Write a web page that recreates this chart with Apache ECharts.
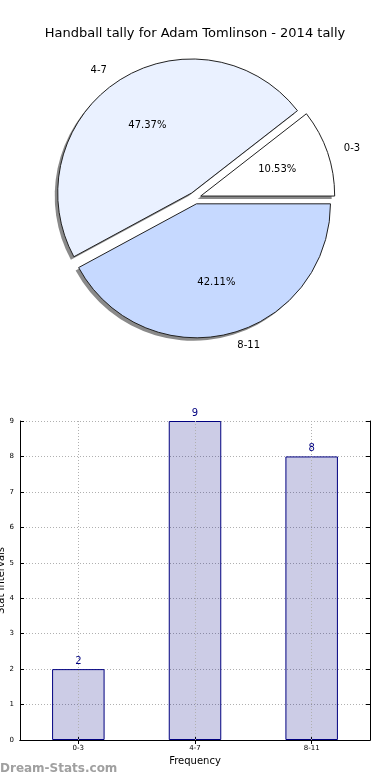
<!DOCTYPE html>
<html>
<head>
<meta charset="utf-8">
<script src="https://cdn.jsdelivr.net/npm/echarts@6/dist/echarts.min.js"></script>
<style>
html,body{margin:0;padding:0;background:#fff;}
#c{width:390px;height:780px;}
</style>
</head>
<body>
<div id="c"></div>
<script>
const chartTitle = 'Handball tally for Adam Tomlinson - 2014 tally';
const categories = ['0-3', '4-7', '8-11'];
const counts = [2, 9, 8];
const pieColors = ['#ffffff', '#eaf1ff', '#c6d9ff'];
const yMin = 0, yMax = 9, yInterval = 1;
const xAxisName = 'Frequency';
const yAxisName = 'Stat Intervals';
const watermark = 'Dream-Stats.com';

const total = counts.reduce((a, b) => a + b, 0);
const FONT = 'DejaVu Sans';
const PIE_CENTER = [195, 198];
const PIE_R = 134;

const pieData = categories.map((c, i) => ({
  name: c,
  value: counts[i],
  selected: true,
  itemStyle: { color: pieColors[i] },
  select: { itemStyle: { color: pieColors[i] } }
}));
const shadowData = categories.map((c, i) => ({ name: c, value: counts[i], selected: true }));
const pctData = categories.map((c, i) => ({ name: c, value: counts[i], selected: true }));

const chart = echarts.init(document.getElementById('c'), null, { renderer: 'canvas' });
chart.setOption({
  animation: false,
  backgroundColor: '#ffffff',
  textStyle: { fontFamily: FONT },
  title: {
    text: chartTitle,
    left: 'center',
    top: 22,
    textStyle: { fontFamily: FONT, fontSize: 13, fontWeight: 'normal', color: '#000' }
  },
  graphic: [{
    type: 'text',
    left: 0,
    top: 763,
    style: { text: watermark, fill: '#a0a0a0', font: 'bold 12px "DejaVu Sans"' }
  }],
  grid: { left: 20, right: 20, top: 421, bottom: 40, show: false, containLabel: false, outerBoundsMode: 'none' },
  xAxis: [{
    type: 'category',
    data: categories,
    gridIndex: 0,
    position: 'bottom',
    axisLine: { show: true, lineStyle: { color: '#000', width: 1 } },
    axisTick: { show: true, inside: true, length: 4, alignWithLabel: true, lineStyle: { color: '#000' } },
    axisLabel: { fontSize: 7, color: '#000', margin: 5, fontFamily: FONT },
    splitLine: { show: false },
    name: xAxisName,
    nameLocation: 'middle',
    nameGap: 16,
    nameMoveOverlap: false,
    nameTextStyle: { fontSize: 10, color: '#000', fontFamily: FONT }
  }, {
    type: 'category',
    data: categories,
    gridIndex: 0,
    position: 'top',
    axisLine: { show: true, lineStyle: { color: '#000', width: 1 } },
    axisTick: { show: true, inside: true, length: 4, alignWithLabel: true, lineStyle: { color: '#000' } },
    axisLabel: { show: false },
    splitLine: { show: false }
  }],
  yAxis: [{
    type: 'value',
    min: yMin, max: yMax, interval: yInterval,
    position: 'left',
    axisLine: { show: true, lineStyle: { color: '#000', width: 1 } },
    axisTick: { show: true, inside: true, length: 4, lineStyle: { color: '#000' } },
    axisLabel: { fontSize: 7, color: '#000', margin: 6, fontFamily: FONT },
    splitLine: { show: true, lineStyle: { color: '#b0b0b0', type: [1, 2], width: 1 } },
    name: yAxisName,
    nameLocation: 'middle',
    nameGap: 14,
    nameMoveOverlap: false,
    nameTextStyle: { fontSize: 10, color: '#000', fontFamily: FONT }
  }, {
    type: 'value',
    min: yMin, max: yMax, interval: yInterval,
    position: 'right',
    axisLine: { show: true, lineStyle: { color: '#000', width: 1 } },
    axisTick: { show: true, inside: true, length: 4, lineStyle: { color: '#000' } },
    axisLabel: { show: false },
    splitLine: { show: false }
  }],
  series: [{
    type: 'pie',
    center: [PIE_CENTER[0] - 3, PIE_CENTER[1] + 3],
    radius: [0, PIE_R],
    clockwise: false,
    startAngle: 0,
    selectedMode: 'multiple',
    selectedOffset: 6,
    silent: true,
    z: 1,
    data: shadowData,
    itemStyle: { color: '#8a8a8a', borderWidth: 0 },
    select: { itemStyle: { color: '#8a8a8a', borderWidth: 0 } },
    label: { show: false },
    labelLine: { show: false }
  }, {
    type: 'pie',
    center: PIE_CENTER,
    radius: [0, PIE_R],
    clockwise: false,
    startAngle: 0,
    selectedMode: 'multiple',
    selectedOffset: 6,
    avoidLabelOverlap: false,
    silent: true,
    z: 2,
    data: pieData,
    itemStyle: { borderColor: '#222', borderWidth: 1 },
    select: { itemStyle: { borderColor: '#222', borderWidth: 1 } },
    label: {
      show: true,
      position: 'outside',
      formatter: '{b}',
      fontSize: 10,
      color: '#000',
      fontFamily: FONT
    },
    labelLine: { show: false, length: 12, length2: 0 }
  }, {
    type: 'pie',
    center: PIE_CENTER,
    radius: [0, 156],
    clockwise: false,
    startAngle: 0,
    selectedMode: 'multiple',
    selectedOffset: 6,
    silent: true,
    z: 5,
    data: pctData,
    itemStyle: { color: 'rgba(0,0,0,0)', borderWidth: 0 },
    select: { itemStyle: { color: 'rgba(0,0,0,0)', borderWidth: 0 } },
    label: {
      show: true,
      position: 'inside',
      formatter: p => (p.value / total * 100).toFixed(2) + '%',
      fontSize: 10,
      color: '#000',
      fontFamily: FONT
    },
    labelLine: { show: false }
  }, {
    type: 'bar',
    xAxisIndex: 0,
    yAxisIndex: 0,
    data: counts,
    barWidth: '45%',
    itemStyle: { color: 'rgba(0,0,128,0.2)', borderColor: '#000080', borderWidth: 1 },
    label: { show: true, position: 'top', distance: 3, color: '#000080', fontSize: 10, fontFamily: FONT },
    markLine: {
      silent: true,
      symbol: ['none', 'none'],
      label: { show: false },
      lineStyle: { color: '#b0b0b0', type: [1, 2], width: 1 },
      data: categories.map(c => ({ xAxis: c }))
    }
  }]
});
</script>
</body>
</html>
